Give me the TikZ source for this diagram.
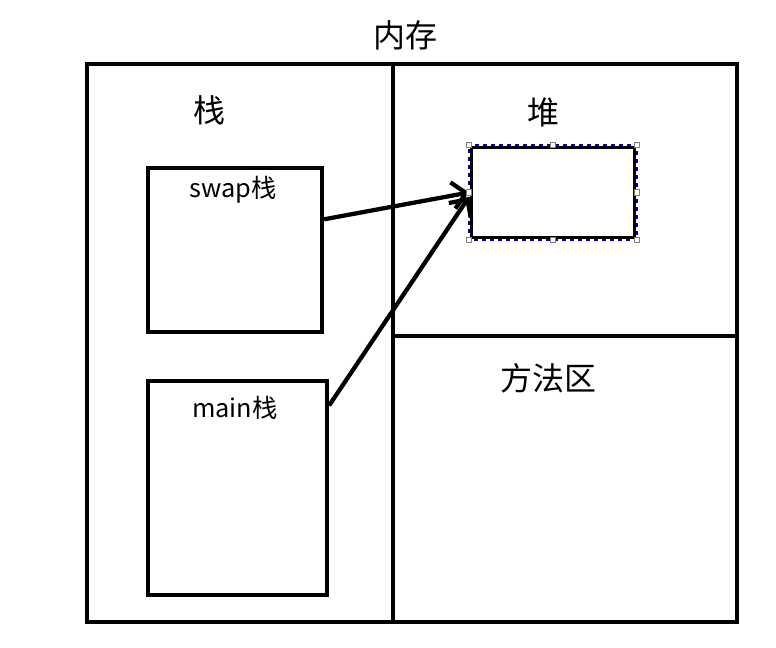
\documentclass[tikz,border=0pt]{standalone}
\usepackage{fontspec}
\setmainfont{Noto Sans CJK SC}
\usetikzlibrary{arrows.meta}

\begin{document}
\begin{tikzpicture}[x=0.75pt, y=-0.75pt,
    area/.style={draw, line width=3.2pt},
    frame/.style={draw, line width=3.2pt, rectangle, inner sep=0pt},
    biglabel/.style={font=\fontsize{24}{28}\selectfont},
    smalllabel/.style={font=\fontsize{19}{22}\selectfont},
    ref/.style={line width=3.2pt, -{Straight Barb[length=10pt, width=20pt]}},
    handle/.style={draw=gray, fill=white, line width=0.6pt, rectangle,
      minimum size=4pt, inner sep=0pt}]
  \useasboundingbox (0,0) rectangle (776,648);

  % Memory outline and its regions
  \node[biglabel] (mem) at (405,35) {内存};
  \draw[area] (87,64) rectangle (737,622);
  \draw[area] (393,64) -- (393,622);
  \draw[area] (393,336) -- (737,336);

  % Region titles
  \node[biglabel] (stack) at (209,110) {栈};
  \node[biglabel] (heap) at (543,112) {堆};
  \node[biglabel] (method) at (548,378) {方法区};

  % Stack frames
  \node[frame, minimum width=174*0.75pt, minimum height=164*0.75pt]
    (swap) at (235,250) {};
  \node[smalllabel] at (233,190) {swap栈};
  \node[frame, minimum width=179*0.75pt, minimum height=214*0.75pt]
    (main) at (237.5,488) {};
  \node[smalllabel] at (235,408) {main栈};

  % Object on the heap
  \node[draw, line width=3pt, rectangle, inner sep=0pt,
    minimum width=164*0.75pt, minimum height=91*0.75pt] (obj) at (553,192.5) {};
  \draw[white, line width=0.8pt, dash pattern=on 3pt off 3pt]
    (obj.north west) rectangle (obj.south east);
  \draw[blue!70!black, line width=0.8pt, dash pattern=on 3pt off 3pt, dash phase=3pt]
    (obj.north west) rectangle (obj.south east);

  % References from both frames to the object
  \draw[ref] (swap.19) -- (obj.west);
  \draw[ref] (main.42) -- (obj.183);

  % Selection handles
  \foreach \a in {north west, north, north east, east, south east, south, south west, west}
    \node[handle] at (obj.\a) {};
\end{tikzpicture}
\end{document}
